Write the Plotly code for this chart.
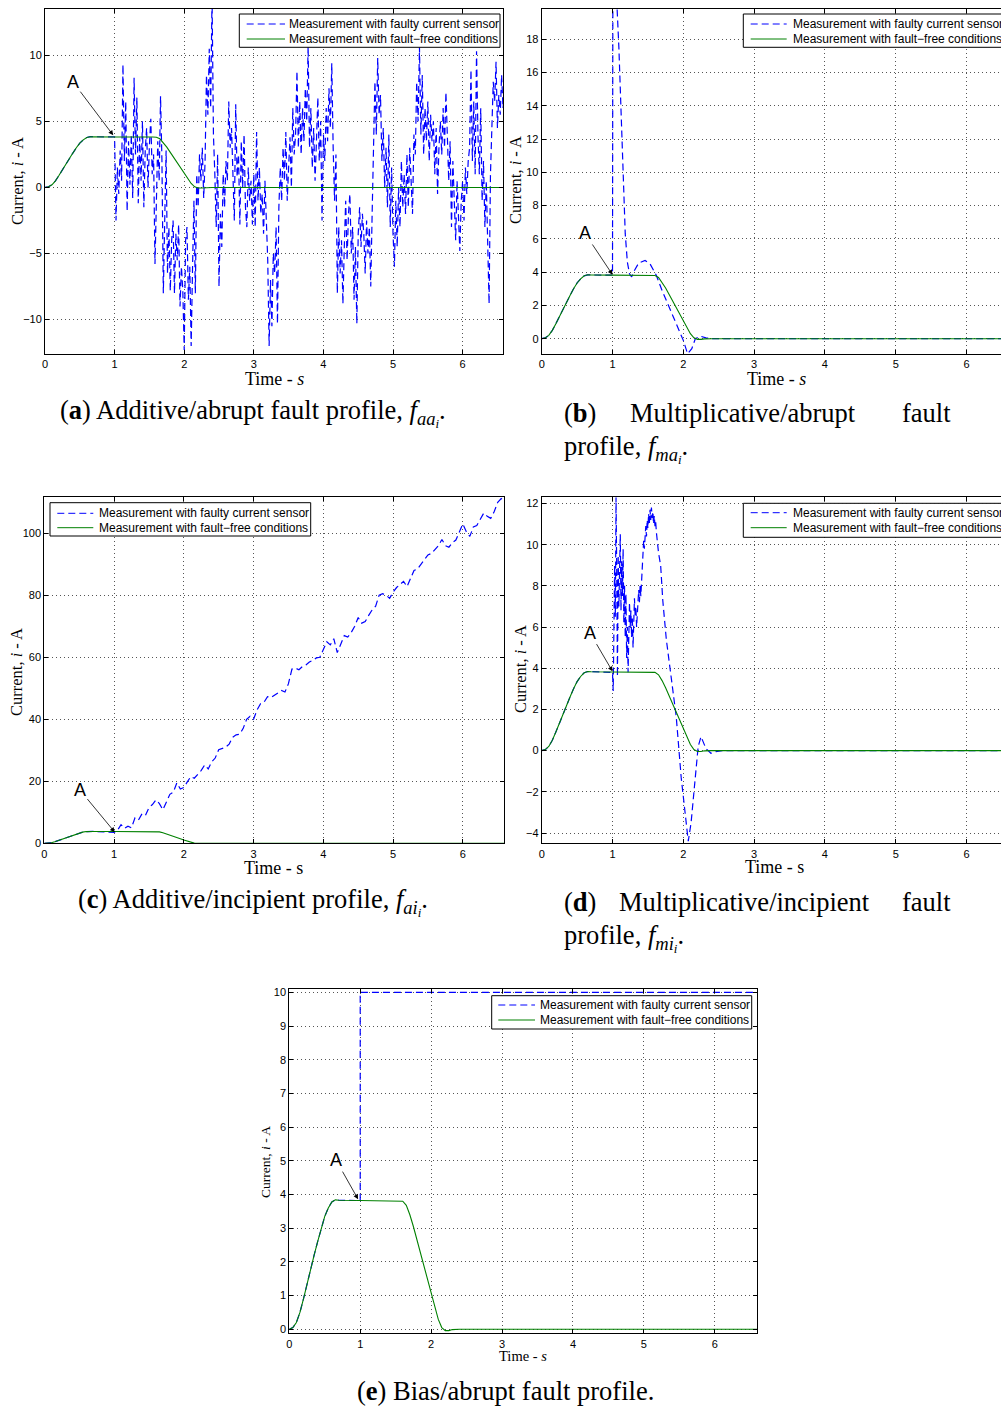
import plotly.graph_objects as go

W, H = 1001, 1407

# ---------------- data ----------------
# fault-free current profile (shared by all panels)
t_ff = [0.0, 0.05, 0.1, 0.15, 0.2, 0.25, 0.3, 0.35, 0.4, 0.45, 0.5, 0.55, 0.6, 0.65, 0.7, 1.0,
        1.55, 1.6, 1.65, 1.7, 1.75, 1.8, 1.85, 1.9, 1.95, 2.0, 2.05, 2.1, 2.15, 2.2, 2.25, 2.3, 2.4, 6.6]
i_ff = [0.0, 0.05, 0.2, 0.5, 0.9, 1.35, 1.8, 2.2, 2.6, 3.0, 3.35, 3.6, 3.78, 3.84, 3.83, 3.82,
        3.82, 3.8, 3.68, 3.4, 3.05, 2.65, 2.25, 1.85, 1.45, 1.05, 0.65, 0.3, 0.05, -0.04, -0.04, -0.01, 0.0, 0.0]

# (a) additive / abrupt: samples every 0.02 s starting at 1.0 s
a_t_start = 1.0
a_t_step = 0.02
a_vals = [3.82, -2.5, 1.5, -0.5, 2.8,
          0.5, 9.3, 2.0, 6.5, -1.8,
          3.5, 0.2, 4.0, -0.8, 8.3,
          2.5, 6.8, -1.2, 3.8, 0.5,
          5.0, -1.5, 2.8, 4.5, 0.0,
          3.2, 5.2, 1.0, 2.5, -5.8,
          -1.5, 3.5, 0.5, 6.9, 2.0,
          -8.0, -2.5, 2.8, -6.5, -3.0,
          -7.8, -4.0, -2.5, -8.0, -3.5,
          -5.5, -2.8, -9.0, -6.0, -7.8,
          -12.3, -4.0, -3.0, -8.5, -6.0,
          -12.0, -6.0, -1.0, -8.0, 1.0,
          -1.5, 2.5, 0.5, 3.0, -0.8,
          2.0, 8.5, 5.5, 10.5, 6.0,
          14.5, 4.0, 1.0, -3.0, 2.5,
          -7.5, -2.0, -4.5, 1.0, -1.5,
          2.0, 0.5, 6.5, 3.0, 4.5,
          1.0, -2.5, 6.3, 0.8, 2.5,
          -2.8, 3.5, 0.0, 4.0, -1.5,
          -3.0, 1.5, -1.0, 0.5, -2.8,
          1.0, -3.0, 4.2, -1.0, 1.5,
          -2.0, -0.5, -3.5, 0.5, -2.5,
          -5.5, -12.0, -7.0, -10.5, -5.0,
          -6.5, -3.0, -10.3, -1.5, 1.5,
          -1.0, 3.0, 0.5, 4.2, -1.0,
          1.5, 3.8, 0.0, 6.0, 2.5,
          4.0, 8.8, 3.0, 6.5, 2.5,
          6.0, 3.5, 7.5, 5.0, 10.7,
          3.0, 6.0, 1.5, 4.5, 0.5,
          3.5, 6.8, 2.0, 5.0, -2.5,
          4.0, 2.0, 6.0, 3.5, 7.5,
          4.5, 9.4, 3.0, -1.0, 2.5,
          -8.0, -3.0, -6.5, -4.0, -8.8,
          -4.5, -1.0, -5.5, -2.0, -0.5,
          -5.0, -3.0, -8.5, -4.5, -10.3,
          -3.5, -1.5, -4.5, -2.0, -3.5,
          -6.5, -2.5, -5.0, -3.0, -7.5,
          -2.0, 2.0, 8.0, 4.0, 9.8,
          5.5, 7.0, 2.0, 4.5, 0.0,
          3.0, -1.5, 4.0, -3.0, 1.5,
          -3.5, -6.0, -1.0, -4.5, 0.0,
          -3.0, 2.0, -1.5, 1.0, -2.0,
          2.5, -1.5, 3.0, 0.5, -2.0,
          4.0, 2.5, 8.0, 5.0, 10.6,
          4.0, 8.5, 2.5, 6.0, 3.5,
          6.5, 2.0, 5.5, 3.5, 5.0,
          1.0, 4.5, -0.5, 3.0, 5.0,
          2.5, 6.0, 3.0, 7.2, 4.0,
          0.5, 3.5, -3.0, 2.0, -1.0,
          -4.0, 0.5, -2.0, -4.8, -1.0,
          0.5, -2.5, 1.5, -0.5, 2.0,
          3.0, 8.9, 2.0, 6.5, 1.0,
          10.3, 4.0, 1.0, 6.0, -1.0,
          2.0, -3.0, 0.5, -5.5, -8.8,
          1.0, 5.0, 8.0, 6.5, 9.5,
          4.5, 7.0, 5.5, 8.5, 6.0,
          7.0]

# (b) multiplicative / abrupt
b_t = [1.0, 1.005, 1.03, 1.06, 1.09, 1.12, 1.15, 1.18, 1.21, 1.24, 1.27, 1.31, 1.37, 1.46, 1.53,
       1.58, 1.62, 1.7, 1.79, 1.9, 2.0, 2.06, 2.12, 2.17, 2.24, 2.32, 2.4, 6.6]
b_vals = [3.82, 20.5, 21.5, 20.3, 17.5, 13.5, 9.5, 6.3, 4.6, 3.9, 3.72, 4.1, 4.55, 4.7, 4.5,
          4.15, 3.8, 2.9, 2.0, 1.0, -0.1, -0.9, -0.6, 0.0, 0.15, 0.05, 0.0, 0.0]

# (c) additive / incipient: samples every 0.05 s starting at 1.0 s
c_t_start = 1.0
c_t_step = 0.05
c_vals = [3.5, 4.2, 6.0, 4.8, 5.5, 5.0, 8.2, 7.5, 9.5, 9.0,
          11.5, 12.5, 14.0, 12.8, 10.8, 13.5, 15.8, 16.5, 19.5, 17.5,
          18.0, 19.8, 21.5, 21.0, 22.2, 23.5, 25.3, 24.0, 26.3, 27.5,
          30.2, 30.5, 31.0, 32.0, 34.2, 35.0, 35.2, 37.0, 40.0, 41.0,
          40.0, 43.0, 45.0, 45.5, 47.3, 47.0, 47.8, 48.5, 49.3, 48.8,
          51.5, 56.2, 56.5, 56.0, 57.0, 57.5, 58.5, 59.0, 59.8, 60.0,
          62.5, 65.0, 64.0, 66.0, 61.5, 64.5, 67.0, 66.5, 68.0, 70.0,
          72.8, 71.0, 71.5, 73.5, 75.3, 76.5, 80.0, 80.5, 80.0, 79.0,
          81.0, 82.5, 83.5, 84.5, 82.8, 85.5, 88.0, 88.5, 90.0, 91.5,
          93.0, 93.5, 94.8, 96.0, 98.0, 96.0, 95.5, 97.0, 97.8, 100.5,
          103.0, 100.5, 99.0, 102.0, 102.5, 104.5, 106.5, 105.5, 104.8, 107.0,
          110.0, 111.2, 110.5]

# (d) multiplicative / incipient
d_t = [1.00, 1.01, 1.02, 1.03, 1.04, 1.05, 1.06, 1.07, 1.08, 1.09,
       1.10, 1.11, 1.12, 1.13, 1.14, 1.15, 1.16, 1.17, 1.18, 1.19,
       1.20, 1.21, 1.22, 1.23, 1.24, 1.25, 1.26, 1.27, 1.28, 1.29,
       1.30, 1.31, 1.32, 1.33, 1.34, 1.35, 1.36, 1.37, 1.38, 1.39,
       1.40, 1.41, 1.42, 1.43, 1.44, 1.45, 1.46, 1.47, 1.48, 1.49,
       1.50, 1.51, 1.52, 1.53, 1.54, 1.55, 1.56, 1.57, 1.58, 1.59,
       1.60, 1.61, 1.62, 1.63, 1.64, 1.65,
       1.68, 1.71, 1.76, 1.83, 1.90, 1.97, 2.02, 2.07, 2.11, 2.16, 2.21, 2.25, 2.32, 2.39, 2.46, 2.55, 6.6]
d_vals = [3.8, 2.9, 7.5, 9.0, 6.5, 12.3, 8.5, 3.6, 9.5, 7.0,
          8.8, 10.5, 6.8, 9.2, 7.5, 9.8, 6.2, 8.0, 5.5, 7.6,
          4.5, 6.0, 3.8, 5.2, 7.2, 6.0, 6.8, 5.5, 6.5, 5.0,
          6.2, 7.4, 6.5, 7.0, 6.0, 6.8, 7.5, 7.8, 7.2, 8.0,
          7.5, 8.4, 9.0, 9.8, 10.2, 9.8, 10.6, 10.9, 10.4, 11.2,
          10.8, 11.5, 11.0, 11.7, 11.2, 11.8, 11.3, 11.6, 11.0, 11.4,
          10.9, 11.1, 10.6, 10.2, 9.9, 9.6,
          9.0, 7.3, 5.4, 3.4, 1.65, -1.3, -2.9, -4.4, -3.5, -1.6, 0.2, 0.68, 0.1, -0.13, -0.05, 0.0, 0.0]

# (e) bias / abrupt
e_t = [1.0, 1.0, 6.6]
e_vals = [3.82, 10.0, 10.0]

LEG_FAULT = "Measurement with faulty current sensor"
LEG_FREE = "Measurement with fault\u2212free conditions"

# ---------------- helpers ----------------
def pre_fault():
    tt, vv = [], []
    for t, v in zip(t_ff, i_ff):
        if t < 1.0:
            tt.append(t)
            vv.append(v)
    return tt, vv

def uniform_times(start, step, n):
    return [round(start + step * k, 4) for k in range(n)]

pt, pv = pre_fault()
faulty = [
    (pt + uniform_times(a_t_start, a_t_step, len(a_vals)), pv + a_vals),
    (pt + b_t, pv + b_vals),
    (pt + uniform_times(c_t_start, c_t_step, len(c_vals)), pv + c_vals),
    (pt + d_t, pv + d_vals),
    (pt + e_t, pv + e_vals),
]

# panel geometry in pixels: left, right, top, bottom; legend box (l, r, t, b), sample x0,x1, text x, row ys
panels = [
    dict(L=45, R=503, T=9, B=354, xr=[0, 6.58], yr=[-12.6, 13.5], yt=[-10, -5, 0, 5, 10],
         leg=(239.3, 500, 14, 47.3), smp=(246.7, 285), ltx=287.3, rows=(24, 39),
         A=(0.40, 8.0), Ah=(0.98, 3.95), ts=16.5, xs=18, ital=True,
         yt_pos=(18, 181), xt_pos=(274, 379)),
    dict(L=541.7, R=1001, T=9, B=354, xr=[0, 6.487], yr=[-0.92, 19.82], yt=[0, 2, 4, 6, 8, 10, 12, 14, 16, 18],
         leg=(743.3, 1010, 14, 47.3), smp=(750.7, 786.7), ltx=790.7, rows=(24, 39),
         A=(0.61, 6.34), Ah=(1.0, 3.85), ts=16.5, xs=18, ital=True,
         yt_pos=(515, 180), xt_pos=(776, 379)),
    dict(L=44.3, R=504, T=497.3, B=843.3, xr=[0, 6.59], yr=[0, 111.6], yt=[0, 20, 40, 60, 80, 100],
         leg=(50, 310.7, 502.7, 536), smp=(57.3, 93.3), ltx=97.3, rows=(513.3, 527.7),
         A=(0.51, 17.2), Ah=(1.01, 3.6), ts=16.5, xs=18, ital=False,
         yt_pos=(16, 672), xt_pos=(273, 868)),
    dict(L=541.7, R=1001, T=497.3, B=843.3, xr=[0, 6.487], yr=[-4.5, 12.3], yt=[-4, -2, 0, 2, 4, 6, 8, 10, 12],
         leg=(743.3, 1010, 503.3, 537.3), smp=(750.7, 786.7), ltx=790.7, rows=(512.7, 527.7),
         A=(0.68, 5.73), Ah=(1.0, 3.85), ts=16.5, xs=18, ital=False,
         yt_pos=(520, 669), xt_pos=(774, 867)),
    dict(L=289.3, R=757.3, T=989, B=1333.3, xr=[0, 6.6], yr=[-0.12, 10.1], yt=[0, 1, 2, 3, 4, 5, 6, 7, 8, 9, 10],
         leg=(491.7, 751.7, 995.7, 1029), smp=(498.3, 535), ltx=538.3, rows=(1005, 1020),
         A=(0.66, 5.02), Ah=(0.97, 3.86), ts=13.5, xs=14.5, ital=True,
         yt_pos=(265, 1162), xt_pos=(523, 1356)),
]

BLUE = "#0000ff"
GREEN = "#008000"
SANS = "Liberation Sans, Arial, sans-serif"
SERIF = "Liberation Serif, Times New Roman, serif"
DASH = "7px,4px"

fig = go.Figure()
layout = dict(width=W, height=H, margin=dict(l=0, r=0, t=0, b=0, pad=0, autoexpand=False),
              paper_bgcolor="white", plot_bgcolor="white", showlegend=False)
annotations = []
shapes = []

def px(x):
    return x / W

def py(y):
    return 1 - y / H

for k, p in enumerate(panels):
    n = "" if k == 0 else str(k + 1)
    xa, ya = "x" + n, "y" + n
    ft, fv = faulty[k]
    fig.add_trace(go.Scatter(x=ft, y=fv, mode="lines", name=LEG_FAULT,
                             line=dict(color=BLUE, width=1.2, dash=DASH),
                             xaxis=xa, yaxis=ya, hoverinfo="skip"))
    fig.add_trace(go.Scatter(x=t_ff, y=i_ff, mode="lines", name=LEG_FREE,
                             line=dict(color=GREEN, width=1.1),
                             xaxis=xa, yaxis=ya, hoverinfo="skip"))
    common = dict(showline=True, linecolor="black", linewidth=1, ticks="inside", ticklen=4,
                  tickcolor="black", tickwidth=1, showgrid=True, gridcolor="#555555", gridwidth=1,
                  griddash="1px,3px", zeroline=False, layer="above traces",
                  tickfont=dict(family=SANS, size=11, color="black"))
    right_cut = p["R"] >= W - 0.5
    layout["xaxis" + n] = dict(common, domain=[p["L"] / W, min(p["R"] / W, 1.0)], range=p["xr"],
                               anchor=ya, tickvals=[0, 1, 2, 3, 4, 5, 6], mirror="ticks")
    layout["yaxis" + n] = dict(common, domain=[1 - p["B"] / H, 1 - p["T"] / H], range=p["yr"],
                               anchor=xa, tickvals=p["yt"], mirror=False if right_cut else "ticks")

    # legend box drawn as shapes + text
    l, r, t, b = p["leg"]
    shapes.append(dict(type="rect", xref="paper", yref="paper", x0=px(l), x1=px(r), y0=py(b), y1=py(t),
                       line=dict(color="black", width=1), fillcolor="white", layer="above"))
    s0, s1 = p["smp"]
    shapes.append(dict(type="line", xref="paper", yref="paper", x0=px(s0), x1=px(s1),
                       y0=py(p["rows"][0]), y1=py(p["rows"][0]),
                       line=dict(color=BLUE, width=1, dash=DASH), layer="above"))
    shapes.append(dict(type="line", xref="paper", yref="paper", x0=px(s0), x1=px(s1),
                       y0=py(p["rows"][1]), y1=py(p["rows"][1]),
                       line=dict(color=GREEN, width=1), layer="above"))
    for txt, ry in ((LEG_FAULT, p["rows"][0]), (LEG_FREE, p["rows"][1])):
        annotations.append(dict(text=txt, xref="paper", yref="paper", x=px(p["ltx"]), y=py(ry),
                                xanchor="left", yanchor="middle", showarrow=False,
                                font=dict(family=SANS, size=12, color="black")))

    # axis titles
    s = "<i>s</i>" if p["ital"] else "s"
    annotations.append(dict(text="Time - " + s, xref="paper", yref="paper",
                            x=px(p["xt_pos"][0]), y=py(p["xt_pos"][1]),
                            xanchor="center", yanchor="middle", showarrow=False,
                            font=dict(family=SERIF, size=p["xs"], color="black")))
    annotations.append(dict(text="Current, <i>i</i> - A", xref="paper", yref="paper",
                            x=px(p["yt_pos"][0]), y=py(p["yt_pos"][1]), textangle=-90,
                            xanchor="center", yanchor="middle", showarrow=False,
                            font=dict(family=SERIF, size=p["ts"], color="black")))
    # "A" marker
    annotations.append(dict(text="A", xref=xa, yref=ya, axref=xa, ayref=ya,
                            x=p["Ah"][0], y=p["Ah"][1], ax=p["A"][0], ay=p["A"][1],
                            showarrow=True, arrowhead=2, arrowsize=1.2, arrowwidth=0.8,
                            arrowcolor="black", standoff=0,
                            font=dict(family=SANS, size=18, color="black")))

CAP = 26.5
def cap(text, x, y, anchor):
    annotations.append(dict(text=text, xref="paper", yref="paper", x=px(x), y=py(y),
                            xanchor=anchor, yanchor="middle", showarrow=False,
                            font=dict(family=SERIF, size=CAP, color="black")))

cap("(<b>a</b>) Additive/abrupt fault profile, <i>f</i><sub><i>aa</i><sub><i>i</i></sub></sub>.", 253, 413, "center")
cap("(<b>b</b>)", 562, 413, "left")
cap("Multiplicative/abrupt", 628, 413, "left")
cap("fault", 953, 413, "right")
cap("profile, <i>f</i><sub><i>ma</i><sub><i>i</i></sub></sub>.", 562, 449, "left")
cap("(<b>c</b>) Additive/incipient profile, <i>f</i><sub><i>ai</i><sub><i>i</i></sub></sub>.", 253, 902, "center")
cap("(<b>d</b>)", 562, 902, "left")
cap("Multiplicative/incipient", 617, 902, "left")
cap("fault", 953, 902, "right")
cap("profile, <i>f</i><sub><i>mi</i><sub><i>i</i></sub></sub>.", 562, 938, "left")
cap("(<b>e</b>) Bias/abrupt fault profile.", 505, 1391, "center")

layout["annotations"] = annotations
layout["shapes"] = shapes
fig.update_layout(**layout)

fig.write_html("out.html", config={"displayModeBar": False},
               post_script="document.body.style.margin='0';document.body.style.overflow='hidden';")
